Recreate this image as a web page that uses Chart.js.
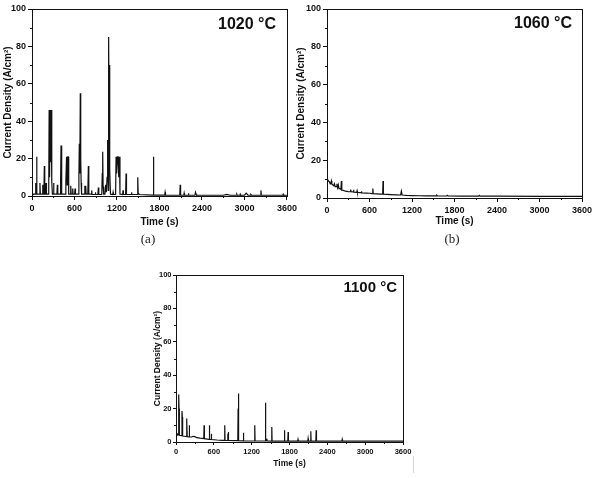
<!DOCTYPE html>
<html>
<head>
<meta charset="utf-8">
<script src="https://cdn.jsdelivr.net/npm/chart.js@4.4.1/dist/chart.umd.min.js"></script>
<style>
  body { margin: 0; background: #fff; }
  #page { position: relative; width: 597px; height: 478px; overflow: hidden; background: #fff; }
  canvas { position: absolute; }
  .tag {
    position: absolute;
    font-family: "Liberation Serif", "Times New Roman", serif;
    font-size: 13px;
    line-height: 16px;
    color: #222;
    transform: translateX(-50%);
  }
  .mark { position: absolute; background: #d4d4d4; width: 1px; }
</style>
</head>
<body>
<div id="page">
  <canvas id="chart-a" width="300" height="236" style="left:0px;top:0px"></canvas>
  <canvas id="chart-b" width="302" height="238" style="left:295px;top:0px"></canvas>
  <canvas id="chart-c" width="263" height="212" style="left:153px;top:262px"></canvas>
  <div class="tag" style="left:148px;top:231px">(a)</div>
  <div class="tag" style="left:452px;top:231px">(b)</div>
  <div class="mark" style="left:413px;top:456px;height:17px"></div>
</div>
<script>
// time (s), current density (A/cm2)
const series1020 = [
  [0,0.4],[25,1],[45,1],[50,7],[55,1],[62,1],[66,21],[70,1],[105,1],[112,7],[118,1],
  [145,1],[150,6],[154,1],[168,1],[174,16],[180,1],[190,1],[198,7],[204,1],
  [236,1],[242,46],[248,10],[256,46],[262,18],[270,46],[276,46],[282,8],[288,1],
  [300,1],[305,7],[310,1],[352,1],[358,6],[364,1],[400,1],[404,8],[410,27],[416,4],[422,1],
  [470,1],[478,8],[488,21],[496,6],[505,21],[512,21],[518,1],[540,1],[547,5.5],[553,1],
  [570,1],[575,4],[580,1],[602,1],[608,4],[614,1],[655,1],[662,10],[668,28],[675,12],
  [682,55],[688,20],[694,7],[700,1],[740,1],[746,5.5],[752,2],[758,5.5],[764,1],
  [788,1],[796,16],[802,1],[838,1],[843,3],[848,0.8],[890,0.8],[895,2],[900,0.8],
  [930,0.8],[937,4.5],[943,0.8],[985,0.8],[992,12],[998,23.6],[1004,5],[1012,1],
  [1030,1],[1040,6],[1050,2],[1060,10],[1068,30],[1076,3],[1082,85],[1088,40],[1094,70],
  [1100,14],[1108,1],[1140,0.8],[1145,2],[1150,0.8],[1180,0.8],[1187,21],[1195,12],
  [1205,21],[1215,21],[1225,10],[1235,21],[1242,1],[1280,0.8],[1285,3],[1290,0.8],
  [1322,0.8],[1328,12],[1334,0.8],[1400,0.8],[1405,2],[1410,0.8],[1488,0.8],[1493,10],
  [1499,1.5],[1510,1.5],[1515,0.8],[1709,0.5],[1714,21],[1720,0.5],[1873,0.5],[1879,2],
  [1885,0.5],[2086,0.4],[2092,6],[2098,0.4],[2143,0.4],[2148,1.5],[2153,0.4],
  [2204,0.4],[2209,1.5],[2214,0.4],[2300,0.4],[2308,2],[2318,1],[2325,0.4],
  [2700,0.4],[2750,0.9],[2800,0.4],[2886,0.4],[2892,0.9],[2898,0.4],[2935,0.4],
  [2940,0.9],[2945,0.4],[3000,0.4],[3024,1.5],[3050,0.4],[3080,0.4],[3090,0.8],
  [3100,0.4],[3226,0.4],[3232,3],[3238,0.4],[3540,0.4],[3546,0.9],[3552,0.4],[3600,0.4]
];

const series1060 = [
  [0,24],[3,14],[8,10],[20,9],[35,8.5],[45,7.5],[55,8],[62,9],[68,7.5],[80,7],
  [95,6.5],[105,7.5],[115,6],[130,6],[140,7.5],[150,5.5],[160,7],[170,5],[185,5],
  [197,4.5],[203,9],[209,4.2],[230,4],[260,3.6],[300,3.4],[330,3.3],[335,4.5],
  [340,3.3],[370,3.2],[375,4.3],[380,3.1],[420,3],[425,3.8],[430,2.9],[480,2.8],
  [486,3.6],[492,2.7],[560,2.6],[600,2.5],[640,2.3],[647,5],[653,2.3],[700,2.2],
  [760,2],[786,2],[791,9],[796,2],[850,1.9],[900,1.8],[980,1.7],[1040,1.6],
  [1050,3.6],[1060,1.6],[1120,1.4],[1200,1.3],[1300,1.2],[1400,1.1],[1540,1.1],
  [1550,1.5],[1560,1.1],[1690,1.05],[1700,1.4],[1710,1.05],[1900,1],[2140,1],
  [2150,1.4],[2160,1],[2400,0.95],[3000,0.9],[3600,0.9]
];

const series1100 = [
  [0,4],[15,5],[30,4.5],[38,4.2],[43,28.5],[48,20],[53,4],[90,3.8],[95,18.5],
  [100,15],[105,3.6],[160,3.3],[167,14],[170,13],[174,12],[178,3.2],[207,3],
  [211,10],[215,3],[250,3],[270,3.4],[300,3.2],[330,2.6],[380,2.3],[440,2],
  [445,10],[450,2],[500,1.7],[524,1.6],[529,10],[534,1.6],[556,1.5],[560,5],
  [565,1.5],[650,1.2],[730,1],[768,1],[773,10],[778,1],[818,0.9],[822,5],[826,0.9],
  [830,6],[834,0.9],[980,0.8],[985,20],[990,29],[995,0.8],[1064,0.7],[1069,5.5],
  [1074,0.7],[1244,0.6],[1249,10],[1254,0.6],[1414,0.6],[1419,23.5],[1424,0.6],
  [1436,0.6],[1440,2],[1444,0.6],[1514,0.5],[1519,9],[1524,0.5],[1715,0.5],
  [1720,7],[1725,0.5],[1773,0.5],[1778,6],[1783,0.5],[1930,0.5],[1935,1.5],
  [1940,0.5],[2090,0.5],[2095,2],[2100,0.5],[2133,0.5],[2138,6.5],[2143,0.5],
  [2218,0.5],[2223,7],[2228,0.5],[2631,0.5],[2636,1.5],[2641,0.5],[3600,0.5]
];

const minorTimeTicks = [300, 900, 1500, 2100, 2700, 3300];
const minorCurrentTicks = [10, 30, 50, 70, 90];

const ink = "#111";

// box around the plot, minor ticks, temperature label
const framePlugin = {
  id: "frame",
  afterDraw(chart, args, opts) {
    const ctx = chart.ctx;
    const a = chart.chartArea;
    const xs = chart.scales.x;
    const ys = chart.scales.y;

    ctx.save();
    ctx.strokeStyle = ink;
    ctx.lineWidth = 1;
    ctx.strokeRect(
      Math.round(a.left) + 0.5,
      Math.round(a.top) + 0.5,
      Math.round(a.right - a.left),
      Math.round(a.bottom - a.top)
    );

    ctx.beginPath();
    minorTimeTicks.forEach(function(t) {
      const px = Math.round(xs.getPixelForValue(t)) + 0.5;
      ctx.moveTo(px, a.bottom);
      ctx.lineTo(px, a.bottom + 2);
    });
    minorCurrentTicks.forEach(function(v) {
      const py = Math.round(ys.getPixelForValue(v)) + 0.5;
      ctx.moveTo(a.left, py);
      ctx.lineTo(a.left - 2, py);
    });
    ctx.stroke();

    ctx.fillStyle = ink;
    ctx.font = opts.font;
    ctx.textAlign = "right";
    ctx.textBaseline = "middle";
    ctx.fillText(opts.text, a.right - opts.dx, a.top + opts.dy);
    ctx.restore();
  }
};

function plainNumber(value) {
  return String(value);
}

function makeChart(id, points, label, o) {

  const ctx = document.getElementById(id);

  return new Chart(ctx, {
    type: "line",
    data: {
      datasets: [
        {
          data: points.map(function(p) {
            return { x: p[0], y: p[1] };
          }),
          borderColor: ink,
          borderWidth: 1.2,
          pointRadius: 0,
          tension: 0,
          fill: false
        }
      ]
    },
    options: {
      responsive: false,
      animation: false,
      events: [],
      layout: {
        padding: o.padding
      },
      plugins: {
        legend: { display: false },
        tooltip: { enabled: false },
        frame: {
          text: label,
          font: "bold " + o.labelSize + "px 'Liberation Sans', Arial, sans-serif",
          dx: o.labelDx,
          dy: o.labelDy
        }
      },
      scales: {
        x: {
          type: "linear",
          min: 0,
          max: 3600,
          afterFit: function(scale) {
            scale.height = o.xHeight;
          },
          ticks: {
            stepSize: 600,
            maxRotation: 0,
            autoSkip: false,
            padding: o.xTickPad,
            color: ink,
            callback: plainNumber,
            font: { family: "'Liberation Sans', Arial", size: o.tickSize, weight: "bold" }
          },
          grid: {
            drawOnChartArea: false,
            tickLength: o.tickLen,
            color: ink
          },
          border: { color: ink, width: 1 },
          title: {
            display: true,
            text: "Time (s)",
            color: ink,
            padding: { top: 0, bottom: o.xTitlePad },
            font: { family: "'Liberation Sans', Arial", size: o.titleSize, weight: "bold" }
          }
        },
        y: {
          min: 0,
          max: 100,
          afterFit: function(scale) {
            scale.width = o.yWidth;
          },
          ticks: {
            stepSize: 20,
            padding: o.yTickPad,
            color: ink,
            callback: plainNumber,
            font: { family: "'Liberation Sans', Arial", size: o.tickSize, weight: "bold" }
          },
          grid: {
            drawOnChartArea: false,
            tickLength: o.tickLen,
            color: ink
          },
          border: { color: ink, width: 1 },
          title: {
            display: true,
            text: "Current Density (A/cm²)",
            color: ink,
            padding: { top: o.yTitlePad, bottom: 0 },
            font: { family: "'Liberation Sans', Arial", size: o.titleSize, weight: "bold" }
          }
        }
      }
    },
    plugins: [framePlugin]
  });
}

makeChart("chart-a", series1020, "1020 °C", {
  padding: { top: 9, right: 13, left: 0, bottom: 0 },
  yWidth: 32, xHeight: 40, xTickPad: 3, yTickPad: 2, tickLen: 4,
  xTitlePad: 8, yTitlePad: 2,
  tickSize: 9, titleSize: 10, labelSize: 16, labelDx: 11, labelDy: 15.5
});

makeChart("chart-b", series1060, "1060 °C", {
  padding: { top: 9, right: 15, left: 0, bottom: 0 },
  yWidth: 32, xHeight: 40, xTickPad: 3, yTickPad: 2, tickLen: 4,
  xTitlePad: 11, yTitlePad: 0,
  tickSize: 9, titleSize: 10, labelSize: 16, labelDx: 10, labelDy: 15
});

makeChart("chart-c", series1100, "1100 °C", {
  padding: { top: 13, right: 13, left: 0, bottom: 0 },
  yWidth: 23, xHeight: 32, xTickPad: 2, yTickPad: 1.5, tickLen: 3,
  xTitlePad: 5, yTitlePad: 0,
  tickSize: 7.5, titleSize: 8.5, labelSize: 15, labelDx: 6, labelDy: 13
});
</script>
</body>
</html>
